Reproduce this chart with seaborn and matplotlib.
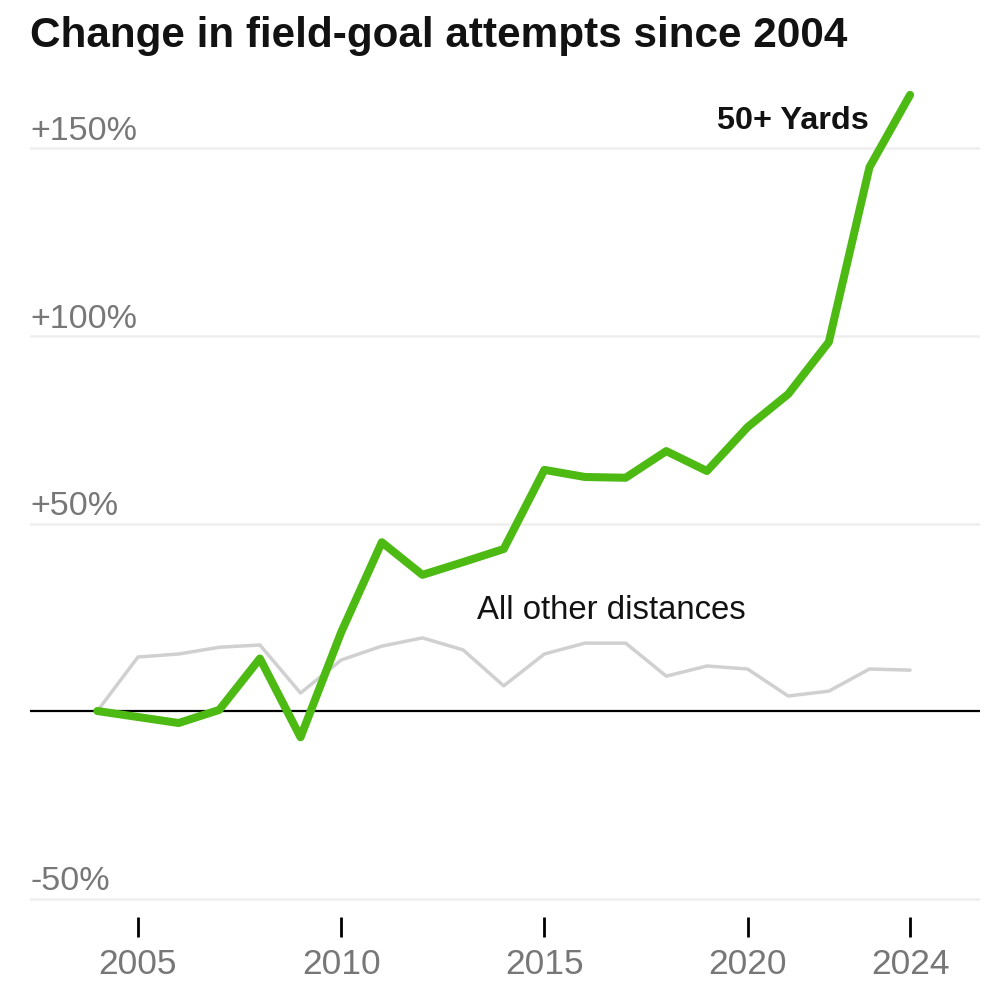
import numpy as np
import pandas as pd
import matplotlib
matplotlib.use('Agg')
import matplotlib.pyplot as plt
import seaborn as sns

years = list(range(2004, 2025))
long_kicks = [0, -1.6, -3.2, 0.3, 14, -7, 21, 45, 36.3, 39.7, 43.2, 64.3, 62.4, 62.2, 69.3, 64, 75.7, 84.5, 98.4, 145, 164.3]
other_kicks = [0, 14.4, 15.2, 17, 17.6, 4.8, 13.6, 17.3, 19.5, 16.3, 6.7, 15.2, 18.1, 18.1, 9.3, 12, 11.2, 4, 5.3, 11.2, 10.9]

y_ticks = [-50, 0, 50, 100, 150]
y_labels = ['-50%', '', '+50%', '+100%', '+150%']
x_ticks = [2005, 2010, 2015, 2020, 2024]

df = pd.DataFrame({'year': years, 'long': long_kicks, 'other': other_kicks})

sns.set_theme(style='white')
plt.rcParams['font.family'] = ['Liberation Sans', 'DejaVu Sans']

fig = plt.figure(figsize=(10, 10), dpi=100)
ax = fig.add_axes([0.03, 0.083, 0.95, 0.835])

# grid drawn by hand so the zero line can be black
for t in y_ticks:
    if t == 0:
        ax.axhline(t, color='black', lw=1.6, zorder=2)
    else:
        ax.axhline(t, color='#eeeeee', lw=1.8, zorder=1)

sns.lineplot(data=df, x='year', y='other', color='#d0d0d0', lw=2.5, ax=ax, zorder=3)
sns.lineplot(data=df, x='year', y='long', color='#4dba13', lw=5.8, ax=ax, zorder=4)

ax.set_xlim(2002.343, 2025.72)
ax.set_ylim(-54.93, 167.73)
ax.set_xlabel('')
ax.set_ylabel('')
sns.despine(ax=ax, left=True, bottom=True)

ax.set_yticks([])
ax.set_xticks(x_ticks)
ax.set_xticklabels([str(x) for x in x_ticks], fontsize=25.5, color='#777777')
ax.tick_params(axis='x', length=14.4, width=2, color='black', pad=8, bottom=True)

tr = ax.get_yaxis_transform()
for t, lab in zip(y_ticks, y_labels):
    if lab:
        ax.text(0, t + 2.2, lab, transform=tr, fontsize=24.5, color='#777777', ha='left', va='baseline')

ax.text(2022.99, 157.2, '50+ Yards', fontsize=23.3, fontweight='bold', color='#121212', ha='right', va='center')
ax.text(2013.35, 26.7, 'All other distances', fontsize=23.7, color='#121212', ha='left', va='center')

fig.text(0.03, 0.964, 'Change in field-goal attempts since 2004', fontsize=30.4, fontweight='bold',
         color='#121212', ha='left', va='center')

fig.savefig('out.png', dpi=100)
